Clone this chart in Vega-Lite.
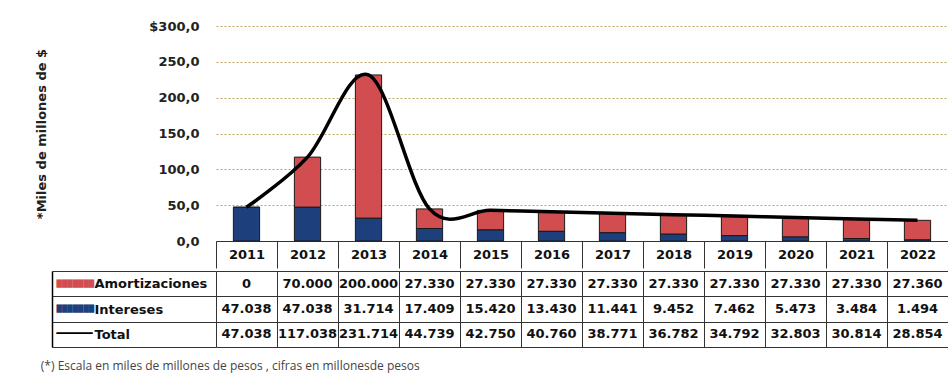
{
  "$schema": "https://vega.github.io/schema/vega-lite/v6.json",
  "background": "white",
  "padding": {"left": 35, "top": 20, "right": 0, "bottom": 4},
  "config": {
    "locale": {"number": {"decimal": ",", "thousands": ".", "grouping": [3], "currency": ["$", ""]}},
    "view": {"stroke": null},
    "font": "DejaVu Sans",
    "concat": {"spacing": 0}
  },
  "title": {"text": "(*) Escala en miles de millones de pesos , cifras en millonesde pesos", "orient": "bottom", "anchor": "start", "font": "Open Sans", "fontSize": 12, "fontWeight": "normal", "color": "#444", "offset": 13, "dx": 5},
  "data": {"values": [
    {"year": 2011, "serie": "Amortizaciones", "value": 0},
    {"year": 2012, "serie": "Amortizaciones", "value": 70000},
    {"year": 2013, "serie": "Amortizaciones", "value": 200000},
    {"year": 2014, "serie": "Amortizaciones", "value": 27330},
    {"year": 2015, "serie": "Amortizaciones", "value": 27330},
    {"year": 2016, "serie": "Amortizaciones", "value": 27330},
    {"year": 2017, "serie": "Amortizaciones", "value": 27330},
    {"year": 2018, "serie": "Amortizaciones", "value": 27330},
    {"year": 2019, "serie": "Amortizaciones", "value": 27330},
    {"year": 2020, "serie": "Amortizaciones", "value": 27330},
    {"year": 2021, "serie": "Amortizaciones", "value": 27330},
    {"year": 2022, "serie": "Amortizaciones", "value": 27360},
    {"year": 2011, "serie": "Intereses", "value": 47038},
    {"year": 2012, "serie": "Intereses", "value": 47038},
    {"year": 2013, "serie": "Intereses", "value": 31714},
    {"year": 2014, "serie": "Intereses", "value": 17409},
    {"year": 2015, "serie": "Intereses", "value": 15420},
    {"year": 2016, "serie": "Intereses", "value": 13430},
    {"year": 2017, "serie": "Intereses", "value": 11441},
    {"year": 2018, "serie": "Intereses", "value": 9452},
    {"year": 2019, "serie": "Intereses", "value": 7462},
    {"year": 2020, "serie": "Intereses", "value": 5473},
    {"year": 2021, "serie": "Intereses", "value": 3484},
    {"year": 2022, "serie": "Intereses", "value": 1494},
    {"year": 2011, "serie": "Total", "value": 47038},
    {"year": 2012, "serie": "Total", "value": 117038},
    {"year": 2013, "serie": "Total", "value": 231714},
    {"year": 2014, "serie": "Total", "value": 44739},
    {"year": 2015, "serie": "Total", "value": 42750},
    {"year": 2016, "serie": "Total", "value": 40760},
    {"year": 2017, "serie": "Total", "value": 38771},
    {"year": 2018, "serie": "Total", "value": 36782},
    {"year": 2019, "serie": "Total", "value": 34792},
    {"year": 2020, "serie": "Total", "value": 32803},
    {"year": 2021, "serie": "Total", "value": 30814},
    {"year": 2022, "serie": "Total", "value": 28854}
  ]},
  "spacing": -4,
  "vconcat": [
    {
      "width": 732,
      "height": 215,
      "encoding": {
        "x": {"field": "year", "type": "ordinal", "scale": {"paddingInner": 0, "paddingOuter": 0},
          "axis": {"title": null, "tickBand": "extent", "tickSize": 27, "minExtent": 27, "maxExtent": 27, "tickColor": "#333", "domainColor": "#333", "labelAngle": 0, "labelFont": "DejaVu Sans", "labelFontWeight": "bold", "labelFontSize": 13, "labelColor": "#111", "labelPadding": -13.5, "labelBaseline": "middle", "grid": false}},
        "y": {"field": "value", "type": "quantitative", "scale": {"domain": [0, 300000], "nice": false},
          "axis": {"title": "*Miles de millones de $", "values": [0, 50000, 100000, 150000, 200000, 250000, 300000], "tickCount": 7, "labelOverlap": false,
            "labelExpr": "datum.value == 300000 ? '$300,0' : format(datum.value / 1000, ',.1f')",
            "domain": false, "ticks": false, "labelPadding": 17, "labelFont": "DejaVu Sans", "labelFontWeight": "bold", "labelFontSize": 13, "labelColor": "#222",
            "grid": true, "gridColor": "#bfa55a", "gridDash": [2, 2], "gridWidth": 1,
            "titleFont": "DejaVu Sans", "titleFontWeight": "bold", "titleFontSize": 13, "titleColor": "#222", "titlePadding": 100}}
      },
      "layer": [
        {
          "transform": [{"filter": "datum.serie != 'Total'"}],
          "mark": {"type": "bar", "width": {"band": 0.43}, "stroke": "#1a1a1a", "strokeWidth": 1},
          "encoding": {
            "y": {"field": "value", "type": "quantitative", "stack": "zero"},
            "color": {"field": "serie", "type": "nominal", "scale": {"domain": ["Amortizaciones", "Intereses"], "range": ["#d24d4f", "#1d3f7c"]}, "legend": null},
            "order": {"field": "serie", "sort": "descending"}
          }
        },
        {
          "transform": [{"filter": "datum.serie == 'Total'"}],
          "mark": {"type": "line", "color": "black", "strokeWidth": 3.5, "interpolate": "cardinal"},
          "encoding": {}
        }
      ]
    },
    {
      "width": 732,
      "height": 76,
      "layer": [
        {
          "mark": {"type": "text", "font": "DejaVu Sans", "fontWeight": "bold", "fontSize": 13, "color": "#111"},
          "encoding": {
            "x": {"field": "year", "type": "ordinal", "scale": {"paddingInner": 0, "paddingOuter": 0},
              "axis": {"title": null, "labels": false, "ticks": false, "domain": false, "grid": true, "tickBand": "extent", "gridColor": "#333", "gridWidth": 1, "gridOpacity": 1, "minExtent": 0}},
            "y": {"field": "serie", "type": "nominal", "scale": {"domain": ["Amortizaciones", "Intereses", "Total"], "paddingInner": 0, "paddingOuter": 0},
              "axis": {"title": null, "orient": "left", "domain": false, "ticks": true, "tickBand": "extent", "tickSize": 164, "tickColor": "#333", "grid": true, "gridColor": "#333", "gridOpacity": 1,
                "labelAlign": "left", "labelPadding": -42, "labelFont": "DejaVu Sans", "labelFontWeight": "bold", "labelFontSize": 13, "labelColor": "#111"}},
            "text": {"field": "value", "type": "quantitative", "format": ","}
          }
        },
        {
          "mark": {"type": "text", "text": ""},
          "encoding": {
            "y": {"field": "serie", "type": "nominal",
              "axis": {"title": null, "orient": "left", "offset": 164, "domain": true, "domainColor": "#000", "domainWidth": 1.5, "ticks": false, "grid": false,
                "labelAlign": "left", "labelPadding": -4, "labelFont": "DejaVu Sans",
                "labelExpr": "datum.value == 'Total' ? '───' : '███████'",
                "labelColor": {"expr": "datum.value == 'Amortizaciones' ? '#d24d4f' : datum.value == 'Intereses' ? '#1d3f7c' : '#000'"},
                "labelFontSize": {"expr": "datum.value == 'Total' ? 20 : 7"}}}
          }
        }
      ],
      "resolve": {"axis": {"y": "independent"}}
    }
  ]
}
